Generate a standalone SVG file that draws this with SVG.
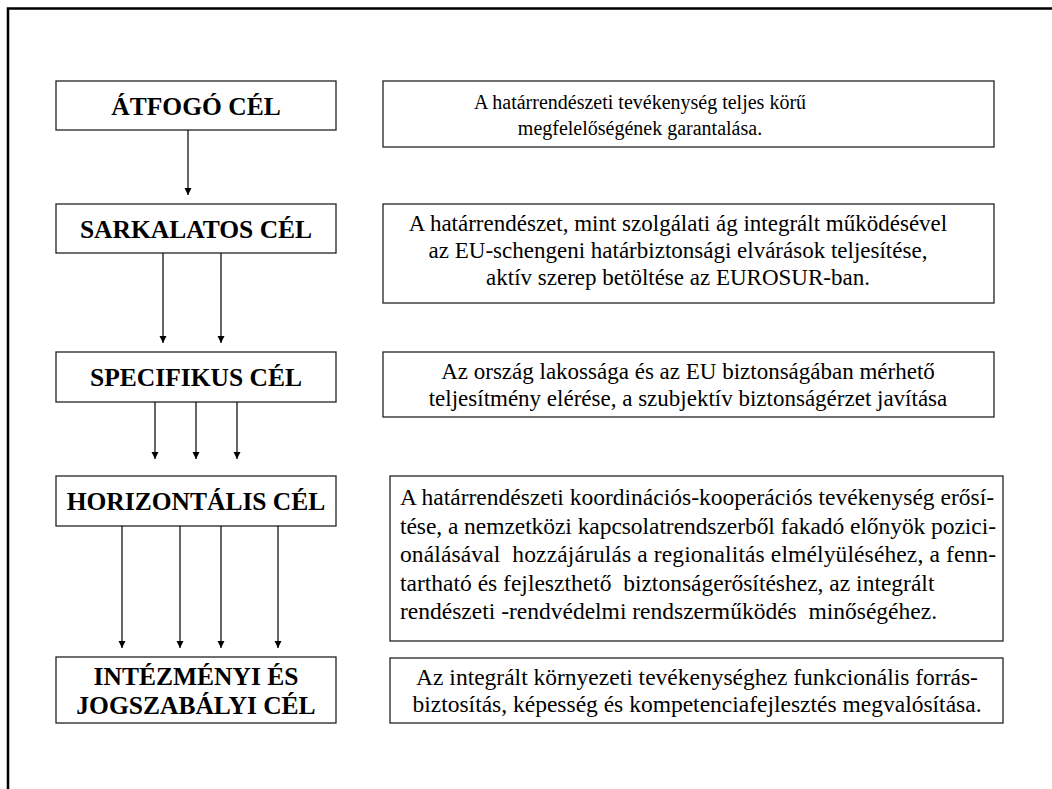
<svg xmlns="http://www.w3.org/2000/svg" width="1052" height="789" viewBox="0 0 1052 789">
  <defs>
    <marker id="arrow" viewBox="0 0 10 10" refX="10" refY="5" markerWidth="7" markerHeight="9" markerUnits="userSpaceOnUse" orient="auto">
      <path d="M0,0 L10,5 L0,10 Z" fill="#000"/>
    </marker>
    <style>
      .box { fill: #fff; stroke: #222; stroke-width: 1.3; }
      .lbl { font-family: "Liberation Serif", "Times New Roman", serif; font-weight: bold; font-size: 25.5px; fill: #000; text-anchor: middle; }
      .txt { font-family: "Liberation Serif", "Times New Roman", serif; font-size: 23px; fill: #000; text-anchor: middle; }
      .sm { font-size: 20px; }
      .lg { font-size: 23.5px; }
      .left { text-anchor: start; }
      .conn line { stroke: #000; stroke-width: 1.2; marker-end: url(#arrow); }
      .frame { stroke: #000; stroke-width: 2.5; fill: none; }
    </style>
  </defs>

  <rect width="1052" height="789" fill="#fff"/>
  <path class="frame" d="M8,789 L8,8.5 L1052,8.5"/>

  <!-- goal levels (left column) -->
  <g id="atfogo">
    <rect class="box" x="56" y="81" width="280" height="49"/>
    <text class="lbl" x="196" y="115">ÁTFOGÓ CÉL</text>
  </g>
  <g id="sarkalatos">
    <rect class="box" x="56" y="204" width="280" height="49"/>
    <text class="lbl" x="196" y="238">SARKALATOS CÉL</text>
  </g>
  <g id="specifikus">
    <rect class="box" x="56" y="352" width="280" height="50"/>
    <text class="lbl" x="196" y="386">SPECIFIKUS CÉL</text>
  </g>
  <g id="horizontalis">
    <rect class="box" x="56" y="476" width="280" height="50"/>
    <text class="lbl" x="196" y="510">HORIZONTÁLIS CÉL</text>
  </g>
  <g id="intezmenyi">
    <rect class="box" x="56" y="657" width="280" height="66"/>
    <text class="lbl" x="196" y="685">INTÉZMÉNYI ÉS</text>
    <text class="lbl" x="196" y="714">JOGSZABÁLYI CÉL</text>
  </g>

  <!-- descriptions (right column) -->
  <g id="atfogo-desc">
    <rect class="box" x="383" y="81" width="611" height="66"/>
    <text class="txt sm" x="640" y="109">A határrendészeti tevékenység teljes körű</text>
    <text class="txt sm" x="640" y="135">megfelelőségének garantalása.</text>
  </g>
  <g id="sarkalatos-desc">
    <rect class="box" x="383" y="204" width="611" height="99"/>
    <text class="txt" x="678" y="231">A határrendészet, mint szolgálati ág integrált működésével</text>
    <text class="txt" x="678" y="258">az EU-schengeni határbiztonsági elvárások teljesítése,</text>
    <text class="txt" x="678" y="285">aktív szerep betöltése az EUROSUR-ban.</text>
  </g>
  <g id="specifikus-desc">
    <rect class="box" x="383" y="352" width="611" height="65"/>
    <text class="txt" x="688" y="379">Az ország lakossága és az EU biztonságában mérhető</text>
    <text class="txt" x="688" y="406">teljesítmény elérése, a szubjektív biztonságérzet javítása</text>
  </g>
  <g id="horizontalis-desc">
    <rect class="box" x="390" y="476" width="613" height="165"/>
    <text class="txt lg left" x="400" y="505" textLength="594">A határrendészeti koordinációs-kooperációs tevékenység erősí-</text>
    <text class="txt lg left" x="400" y="533.5" textLength="596">tése, a nemzetközi kapcsolatrendszerből fakadó előnyök pozici-</text>
    <text class="txt lg left" x="400" y="562" textLength="596" xml:space="preserve">onálásával  hozzájárulás a regionalitás elmélyüléséhez, a fenn-</text>
    <text class="txt lg left" x="400" y="590.5" xml:space="preserve">tartható és fejleszthető  biztonságerősítéshez, az integrált</text>
    <text class="txt lg left" x="400" y="619" xml:space="preserve">rendészeti -rendvédelmi rendszerműködés  minőségéhez.</text>
  </g>
  <g id="intezmenyi-desc">
    <rect class="box" x="390" y="658" width="613" height="65"/>
    <text class="txt lg" x="697" y="685">Az integrált környezeti tevékenységhez funkcionális forrás-</text>
    <text class="txt lg" x="697" y="712">biztosítás, képesség és kompetenciafejlesztés megvalósítása.</text>
  </g>

  <!-- connectors between goal levels -->
  <g id="connectors" class="conn">
    <line x1="188" y1="130" x2="188" y2="195"/>
    <line x1="163" y1="253" x2="163" y2="343"/>
    <line x1="221" y1="253" x2="221" y2="343"/>
    <line x1="155" y1="402" x2="155" y2="459"/>
    <line x1="196" y1="402" x2="196" y2="459"/>
    <line x1="237" y1="402" x2="237" y2="459"/>
    <line x1="122" y1="526" x2="122" y2="648"/>
    <line x1="180" y1="526" x2="180" y2="648"/>
    <line x1="221" y1="526" x2="221" y2="648"/>
    <line x1="278" y1="526" x2="278" y2="648"/>
  </g>
</svg>
